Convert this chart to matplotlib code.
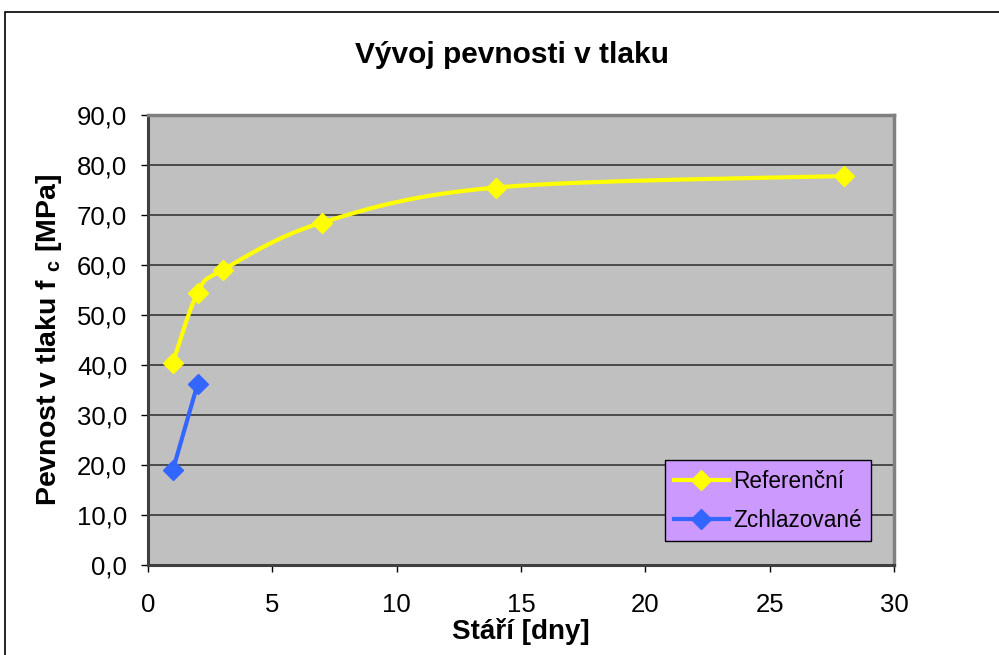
import numpy as np
import matplotlib.pyplot as plt
from matplotlib.patches import Rectangle

plt.rcParams['font.family'] = ['Liberation Sans', 'DejaVu Sans']
plt.rcParams['mathtext.fontset'] = 'custom'
plt.rcParams['mathtext.bf'] = 'Liberation Sans:bold'
plt.rcParams['mathtext.rm'] = 'Liberation Sans'

# data
ref_days = [1, 2, 3, 7, 14, 28]
ref_vals = [40.5, 54.5, 59.0, 68.5, 75.5, 77.8]
cool_days = [1, 2]
cool_vals = [19.0, 36.3]
x_ticks = [0, 5, 10, 15, 20, 25, 30]
y_ticks = [0, 10, 20, 30, 40, 50, 60, 70, 80, 90]


# smoothed line like excel (bezier through the points, done in screen-ish units)
def smooth(xs, ys, sx=747 / 30, sy=450 / 90, n=30):
    p = np.column_stack([np.array(xs) * sx, np.array(ys) * sy])
    out = []
    for i in range(len(p) - 1):
        p0 = p[i - 1] if i > 0 else p[i]
        p3 = p[i + 2] if i + 2 < len(p) else p[i + 1]
        c1 = p[i] + (p[i + 1] - p0) / 6
        c2 = p[i + 1] - (p3 - p[i]) / 6
        t = np.linspace(0, 1, n)[:, None]
        seg = (1 - t) ** 3 * p[i] + 3 * (1 - t) ** 2 * t * c1 + 3 * (1 - t) * t ** 2 * c2 + t ** 3 * p[i + 1]
        out.append(seg if i == 0 else seg[1:])
    out = np.vstack(out)
    return out[:, 0] / sx, out[:, 1] / sy


fig = plt.figure(figsize=(9.99, 6.55), dpi=100)
fig.patches.append(Rectangle((5 / 999, -0.05), 1.1, 1 - 12 / 655 + 0.05, transform=fig.transFigure,
                             fill=False, edgecolor='black', linewidth=1.2))

ax = fig.add_axes([148 / 999, 90 / 655, 746 / 999, 450 / 655])
ax.set_facecolor('#C0C0C0')

for y in y_ticks[1:-1]:
    ax.axhline(y, color='#2a2a2a', linewidth=1.1, zorder=1)

lw = 3.0
ms = 10
sx, sy = smooth(ref_days, ref_vals)
ax.plot(sx, sy, color='#FFFF00', linewidth=lw, zorder=3)
ax.plot(ref_days, ref_vals, linestyle='none', marker='D', markersize=ms, color='#FFFF00', zorder=4)
ax.plot(cool_days, cool_vals, color='#3366FF', linewidth=lw, marker='D', markersize=ms, zorder=4)

# legend proxies
h1, = ax.plot([], [], color='#FFFF00', linewidth=lw, marker='D', markersize=ms)
h2, = ax.plot([], [], color='#3366FF', linewidth=lw, marker='D', markersize=ms)
leg = ax.legend([h1, h2], ['Referenční', 'Zchlazované'], loc='lower right',
                bbox_to_anchor=(0.9695, 0.0525), fontsize=16.3, frameon=True, fancybox=False,
                facecolor='#CC99FF', edgecolor='black', framealpha=1, handlelength=2.4,
                borderpad=0.42, labelspacing=0.72, handletextpad=0.2, borderaxespad=0)
leg.get_frame().set_linewidth(1.0)

ax.set_xlim(0, 30)
ax.set_ylim(0, 90)
ax.set_xticks(x_ticks)
ax.set_yticks(y_ticks)
ax.set_yticklabels([('%.1f' % v).replace('.', ',') for v in y_ticks])
ax.tick_params(labelsize=18.5, length=5, width=1, color='black', direction='out')
ax.tick_params(axis='x', pad=15)
ax.tick_params(axis='y', pad=10)

for s in ['top', 'right']:
    ax.spines[s].set_color('#808080')
    ax.spines[s].set_linewidth(2.5)
for s in ['left', 'bottom']:
    ax.spines[s].set_color('#404040')
    ax.spines[s].set_linewidth(2.2)

fig.text(512 / 999, 1 - 55 / 655, 'Vývoj pevnosti v tlaku', fontsize=21.5, fontweight='bold',
         ha='center', va='center')
ax.set_xlabel('Stáří [dny]', fontsize=20, fontweight='bold', labelpad=1)
ax.set_ylabel(r'Pevnost v tlaku f $_{\mathbf{c}}$ [MPa]', fontsize=20.5, fontweight='bold', labelpad=9)

fig.savefig('out.png', dpi=100)
